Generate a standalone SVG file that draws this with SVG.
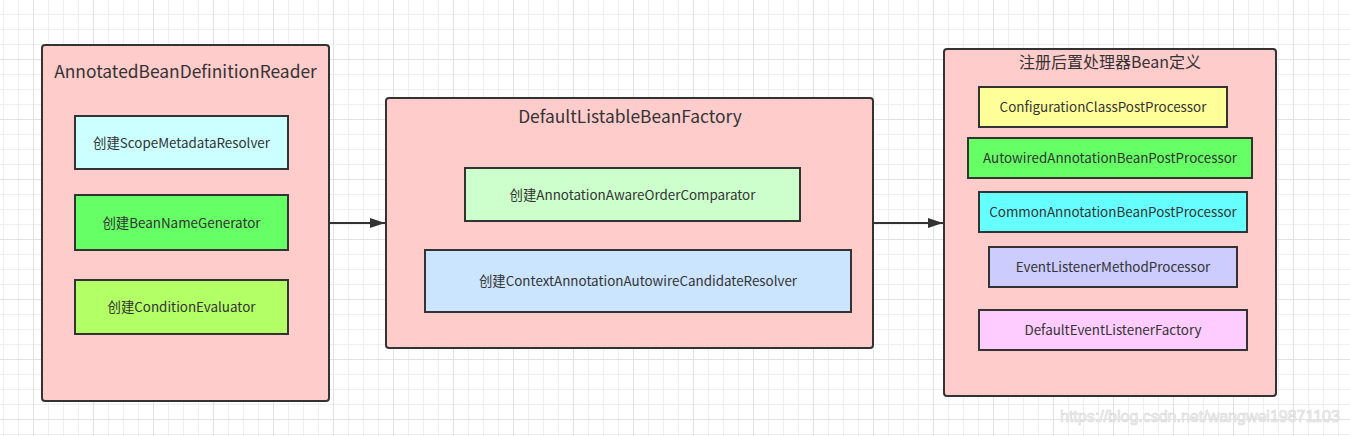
<svg xmlns="http://www.w3.org/2000/svg" width="1350" height="436" viewBox="0 0 1350 436">
<defs>
<pattern id="minor" width="15" height="15" patternUnits="userSpaceOnUse" x="3" y="14">
<path d="M0.5 0V15M0 0.5H15" fill="none" stroke="#efefef" stroke-width="1"/>
</pattern>
<pattern id="major" width="60" height="60" patternUnits="userSpaceOnUse" x="33" y="59">
<path d="M0.5 0V60M0 0.5H60" fill="none" stroke="#e2e2e2" stroke-width="1"/>
</pattern>
<marker id="arr" viewBox="0 0 15 10" refX="15" refY="5" markerWidth="15" markerHeight="10" markerUnits="userSpaceOnUse" orient="auto">
<path d="M0 0L15 5L0 10Z" fill="#333"/>
</marker>
</defs>
<style>
.outer{fill:#ffcccc;stroke:#333;stroke-width:2}
.inner{stroke:#333;stroke-width:2}
.t{font-family:"Noto Sans CJK SC","Microsoft YaHei",sans-serif;fill:#333;text-anchor:middle;dominant-baseline:central}
.title{font-size:17.4px}
.lbl{font-size:13.4px}
.conn{stroke:#333;stroke-width:2;fill:none}
</style>
<rect width="1350" height="436" fill="#fff"/>
<rect width="1350" height="436" fill="url(#minor)"/>
<rect width="1350" height="436" fill="url(#major)"/>

<g id="reader">
<rect class="outer" x="42" y="45" width="287" height="356" rx="3"/>
<text class="t title" x="185.5" y="70.5">AnnotatedBeanDefinitionReader</text>
<g id="scope"><rect class="inner" x="75" y="116" width="213" height="53" fill="#ccffff"/><text class="t lbl" x="181.5" y="141.5">创建ScopeMetadataResolver</text></g>
<g id="beanname"><rect class="inner" x="75" y="195" width="213" height="55" fill="#66ff66"/><text class="t lbl" x="181.5" y="221.5">创建BeanNameGenerator</text></g>
<g id="cond"><rect class="inner" x="75" y="280" width="213" height="54" fill="#b3ff66"/><text class="t lbl" x="181.5" y="306">创建ConditionEvaluator</text></g>
</g>

<g id="factory">
<rect class="outer" x="386" y="98" width="487" height="250" rx="3"/>
<text class="t title" x="630" y="115">DefaultListableBeanFactory</text>
<g id="comparator"><rect class="inner" x="465" y="168" width="335" height="53" fill="#ccffcc"/><text class="t lbl" x="632.5" y="193.5">创建AnnotationAwareOrderComparator</text></g>
<g id="resolver"><rect class="inner" x="425" y="250" width="426" height="62" fill="#cce5ff"/><text class="t lbl" x="638" y="280">创建ContextAnnotationAutowireCandidateResolver</text></g>
</g>

<g id="register">
<rect class="outer" x="944" y="49" width="332" height="347" rx="3"/>
<text class="t" style="font-size:16px" x="1110" y="60.5">注册后置处理器Bean定义</text>
<g id="ccpp"><rect class="inner" x="979" y="87" width="248" height="40" fill="#ffff99"/><text class="t lbl" x="1103" y="106">ConfigurationClassPostProcessor</text></g>
<g id="aabpp"><rect class="inner" x="968" y="138" width="284" height="40" fill="#66ff66"/><text class="t lbl" x="1110" y="157">AutowiredAnnotationBeanPostProcessor</text></g>
<g id="cabpp"><rect class="inner" x="979" y="192" width="268" height="40" fill="#66ffff"/><text class="t lbl" x="1113" y="211">CommonAnnotationBeanPostProcessor</text></g>
<g id="elmp"><rect class="inner" x="989" y="247" width="248" height="40" fill="#ccccff"/><text class="t lbl" x="1113" y="266">EventListenerMethodProcessor</text></g>
<g id="delf"><rect class="inner" x="979" y="310" width="268" height="40" fill="#ffccff"/><text class="t lbl" x="1113" y="329">DefaultEventListenerFactory</text></g>
</g>

<g id="connectors">
<line class="conn" x1="330" y1="223" x2="385" y2="223" marker-end="url(#arr)"/>
<line class="conn" x1="874" y1="223" x2="943" y2="223" marker-end="url(#arr)"/>
</g>

<text x="1060" y="422" style="font-family:'Liberation Sans',Arial,sans-serif;font-size:16px;fill:#f2f2f2;stroke:#d8d8d8;stroke-width:0.6">https://blog.csdn.net/wangwei19871103</text>
</svg>
